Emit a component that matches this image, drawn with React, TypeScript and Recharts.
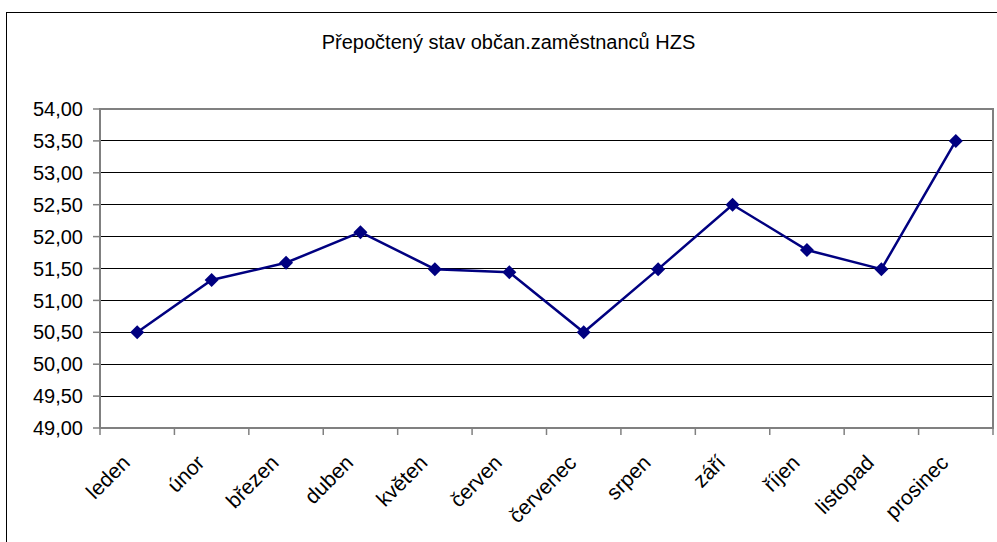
import { CartesianGrid, Line, LineChart, ReferenceArea, XAxis, YAxis } from "recharts";

const months = ["leden", "únor", "březen", "duben", "květen", "červen", "červenec", "srpen", "září", "říjen", "listopad", "prosinec"];
const staff = [50.5, 51.32, 51.59, 52.07, 51.49, 51.44, 50.5, 51.49, 52.5, 51.79, 51.49, 53.5];
const yTicks = [49, 49.5, 50, 50.5, 51, 51.5, 52, 52.5, 53, 53.5, 54];

const boundaryTicks = months.map((_, i) => i).concat(months.length);
const centerTicks = months.map((_, i) => i + 0.5);
const data = months.map((month, i) => ({ pos: i + 0.5, month, value: staff[i] }));

const FONT = "'Liberation Sans', Arial, sans-serif";
const NAVY = "#000080";
const GREY = "#808080";

const Diamond = ({ cx, cy }: { cx?: number; cy?: number }) => {
  if (cx == null || cy == null) return null;
  return <path d={`M${cx},${cy - 7}L${cx + 7},${cy}L${cx},${cy + 7}L${cx - 7},${cy}Z`} fill={NAVY} />;
};

const NoLabel = () => <g />;

const MonthTick = ({ x, y, payload }: any) => (
  <g transform={`translate(${x - 6},${y + 28})`}>
    <text textAnchor="end" transform="rotate(-45)" fontSize={21} fontFamily={FONT} fill="#000">
      {months[Math.floor(payload.value)]}
    </text>
  </g>
);

export default function App() {
  return (
    <div style={{ position: "absolute", left: 0, top: 0, width: 997, height: 542, background: "#fff", overflow: "hidden" }}>
      <div style={{ position: "absolute", left: 6, top: 12, width: 1100, height: 600, border: "1px solid #000" }} />
      <div
        style={{
          position: "absolute",
          left: 0,
          top: 32,
          width: 1017,
          textAlign: "center",
          fontFamily: FONT,
          fontSize: 20,
          lineHeight: "20px",
          color: "#000",
        }}
      >
        Přepočtený stav občan.zaměstnanců HZS
      </div>
      <div style={{ position: "absolute", left: 0, top: 0 }}>
        <LineChart width={997} height={542} data={data} margin={{ top: 109, right: 4, bottom: 26, left: 0 }}>
          <CartesianGrid vertical={false} stroke="#000" strokeWidth={1} shapeRendering="crispEdges" />
          {/* axis 0: line + tick marks at month boundaries, axis 1: month labels below it */}
          <XAxis
            xAxisId={0}
            type="number"
            dataKey="pos"
            domain={[0, months.length]}
            ticks={boundaryTicks}
            tick={<NoLabel />}
            interval={0}
            tickSize={7}
            tickLine={{ stroke: GREY, strokeWidth: 1.5 }}
            axisLine={{ stroke: GREY, strokeWidth: 2 }}
            height={8}
          />
          <XAxis
            xAxisId={1}
            type="number"
            dataKey="pos"
            domain={[0, months.length]}
            ticks={centerTicks}
            tick={<MonthTick />}
            tickSize={0}
            tickMargin={0}
            tickLine={false}
            axisLine={false}
            interval={0}
            height={80}
          />
          <YAxis
            type="number"
            domain={[49, 54]}
            ticks={yTicks}
            interval={0}
            width={100}
            tickSize={7}
            tickMargin={10}
            tickLine={{ stroke: GREY, strokeWidth: 1.5 }}
            axisLine={{ stroke: GREY, strokeWidth: 2 }}
            tick={{ fontSize: 20, fontFamily: FONT, fill: "#000" }}
            tickFormatter={(v: number) => v.toFixed(2).replace(".", ",")}
          />
          <ReferenceArea x1={0} x2={months.length} y1={49} y2={54} fill="none" stroke={GREY} strokeWidth={2} />
          <Line
            type="linear"
            dataKey="value"
            stroke={NAVY}
            strokeWidth={2.5}
            dot={<Diamond />}
            activeDot={false}
            isAnimationActive={false}
          />
        </LineChart>
      </div>
    </div>
  );
}
